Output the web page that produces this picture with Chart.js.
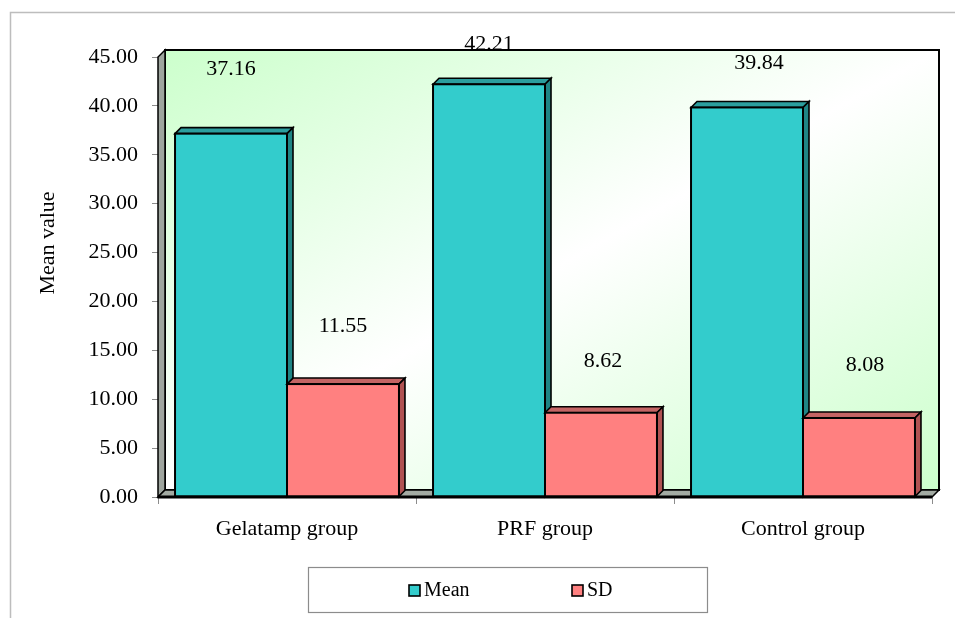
<!DOCTYPE html>
<html>
<head>
<meta charset="utf-8">
<script src="https://cdn.jsdelivr.net/npm/chart.js@4.4.1/dist/chart.umd.min.js"></script>
<style>
  html, body { margin: 0; padding: 0; background: #ffffff; }
  #wrap { width: 955px; height: 618px; position: relative; }
</style>
</head>
<body>
<div id="wrap"><canvas id="c" width="955" height="618"></canvas></div>
<script>
// Group means and standard deviations
const categories = ['Gelatamp group', 'PRF group', 'Control group'];
const meanValues = [37.16, 42.21, 39.84];
const sdValues = [11.55, 8.62, 8.08];
const seriesNames = ['Mean', 'SD'];
const yAxisTitle = 'Mean value';
const yMin = 0, yMax = 45, yStep = 5;

const FONT = '"Liberation Serif", "Times New Roman", serif';
const faces = [
  { front: '#33CCCC', top: '#2B9E9E', side: '#1F8585' },
  { front: '#FF8080', top: '#C46464', side: '#B05252' }
];

// Pseudo-3D walls, floor and bar faces
const depthPlugin = {
  id: 'depth3d',
  beforeDatasetsDraw(chart, args, opts) {
    const { ctx, chartArea: a } = chart;
    const d = opts.wallDepth;
    ctx.save();
    // outer frame
    ctx.strokeStyle = '#bdbdbd';
    ctx.lineWidth = 1.5;
    ctx.beginPath();
    ctx.moveTo(10.5, 700); ctx.lineTo(10.5, 12.5); ctx.lineTo(1000, 12.5);
    ctx.stroke();

    // back wall with diagonal gradient
    const bx = a.left + d, by = a.top - d, bw = a.right - a.left, bh = a.bottom - a.top;
    ctx.save();
    ctx.translate(bx, by);
    ctx.scale(bw, bh);
    const g = ctx.createLinearGradient(0, 0, 1, 1);
    g.addColorStop(0, '#CCFFCC');
    g.addColorStop(0.5, '#FFFFFF');
    g.addColorStop(1, '#CCFFCC');
    ctx.fillStyle = g;
    ctx.fillRect(0, 0, 1, 1);
    ctx.restore();
    ctx.strokeStyle = '#000';
    ctx.lineWidth = 2;
    ctx.strokeRect(bx, by, bw, bh);

    // left wall
    ctx.beginPath();
    ctx.moveTo(a.left, a.bottom);
    ctx.lineTo(a.left, a.top);
    ctx.lineTo(a.left + d, a.top - d);
    ctx.lineTo(a.left + d, a.bottom - d);
    ctx.closePath();
    ctx.fillStyle = '#9EA59E';
    ctx.fill();
    ctx.lineWidth = 1.5;
    ctx.stroke();

    // floor
    ctx.beginPath();
    ctx.moveTo(a.left, a.bottom);
    ctx.lineTo(a.right, a.bottom);
    ctx.lineTo(a.right + d, a.bottom - d);
    ctx.lineTo(a.left + d, a.bottom - d);
    ctx.closePath();
    ctx.fillStyle = '#A3ABA3';
    ctx.fill();
    ctx.lineWidth = 1.5;
    ctx.stroke();
    ctx.restore();
  },
  afterDatasetsDraw(chart, args, opts) {
    const { ctx, chartArea: a } = chart;
    const d = opts.barDepth;
    const metas = chart.data.datasets.map((ds, i) => chart.getDatasetMeta(i));
    ctx.save();
    ctx.lineJoin = 'miter';
    for (let c = 0; c < categories.length; c++) {
      metas.forEach((meta, di) => {
        const p = meta.data[c].getProps(['x', 'y', 'base', 'width'], true);
        const x0 = p.x - p.width / 2, x1 = p.x + p.width / 2;
        const top = p.y, base = p.base;
        const f = faces[di];
        ctx.strokeStyle = '#000';
        ctx.lineWidth = 1.6;
        // top face
        ctx.beginPath();
        ctx.moveTo(x0, top); ctx.lineTo(x0 + d, top - d);
        ctx.lineTo(x1 + d, top - d); ctx.lineTo(x1, top); ctx.closePath();
        ctx.fillStyle = f.top; ctx.fill(); ctx.stroke();
        // side face
        ctx.beginPath();
        ctx.moveTo(x1, top); ctx.lineTo(x1 + d, top - d);
        ctx.lineTo(x1 + d, base - d); ctx.lineTo(x1, base); ctx.closePath();
        ctx.fillStyle = f.side; ctx.fill(); ctx.stroke();
        // front face
        ctx.fillStyle = f.front;
        ctx.fillRect(x0, top, p.width, base - top);
        ctx.lineWidth = 2;
        ctx.strokeRect(x0, top, p.width, base - top);
      });
    }
    // thick front edge of the floor
    ctx.beginPath();
    ctx.moveTo(a.left, a.bottom); ctx.lineTo(a.right, a.bottom);
    ctx.lineWidth = 3; ctx.strokeStyle = '#000'; ctx.stroke();

    // value labels
    ctx.font = '22px ' + FONT;
    ctx.fillStyle = '#000';
    ctx.textAlign = 'center';
    ctx.textBaseline = 'middle';
    metas.forEach((meta, di) => {
      const vals = chart.data.datasets[di].data;
      meta.data.forEach((el, c) => {
        const p = el.getProps(['x', 'y'], true);
        const lift = opts.labelLift[di][c];
        const shift = opts.labelShift[di][c];
        ctx.fillText(vals[c].toFixed(2), p.x + shift, p.y - lift);
      });
    });

    // back wall top and right edges over the labels
    const wd = opts.wallDepth;
    ctx.beginPath();
    ctx.moveTo(a.left + wd, a.top - wd);
    ctx.lineTo(a.right + wd, a.top - wd);
    ctx.lineTo(a.right + wd, a.bottom - wd);
    ctx.lineWidth = 2; ctx.stroke();

    // y-axis title
    ctx.save();
    ctx.translate(48, 243);
    ctx.rotate(-Math.PI / 2);
    ctx.font = '22px ' + FONT;
    ctx.fillText(yAxisTitle, 0, 0);
    ctx.restore();

    // legend
    ctx.strokeStyle = '#8c8c8c';
    ctx.lineWidth = 1.2;
    ctx.strokeRect(308.5, 567.5, 399, 45);
    ctx.font = '20px ' + FONT;
    ctx.textAlign = 'left';
    const items = [{ x: 409 }, { x: 572 }];
    chart.data.datasets.forEach((ds, i) => {
      const x = items[i].x, y = 585;
      ctx.fillStyle = ds.backgroundColor;
      ctx.fillRect(x, y, 11, 11);
      ctx.strokeStyle = '#000';
      ctx.lineWidth = 1.6;
      ctx.strokeRect(x, y, 11, 11);
      ctx.fillStyle = '#000';
      ctx.fillText(ds.label, x + 15, y + 6);
    });
    ctx.restore();
  }
};

new Chart(document.getElementById('c'), {
  type: 'bar',
  data: {
    labels: categories,
    datasets: [
      { label: seriesNames[0], data: meanValues, backgroundColor: faces[0].front, borderColor: '#000', borderWidth: 2 },
      { label: seriesNames[1], data: sdValues, backgroundColor: faces[1].front, borderColor: '#000', borderWidth: 2 }
    ]
  },
  options: {
    responsive: false,
    animation: false,
    devicePixelRatio: 1,
    layout: { padding: { top: 57, right: 23, left: 0, bottom: 0 } },
    datasets: { bar: { categoryPercentage: 0.868, barPercentage: 1.0 } },
    scales: {
      x: {
        afterFit: s => { s.height = 121; },
        grid: { offset: true, drawOnChartArea: false, drawTicks: true, tickLength: 7, color: '#8c8c8c', lineWidth: 1 },
        border: { display: false },
        ticks: { color: '#000', font: { family: FONT, size: 22 }, padding: 12 }
      },
      y: {
        min: yMin, max: yMax,
        afterFit: s => { s.width = 158; },
        grid: { drawOnChartArea: false, drawTicks: true, tickLength: 6, color: '#8c8c8c', lineWidth: 1 },
        border: { display: false },
        ticks: {
          stepSize: yStep, color: '#000', padding: 14,
          font: { family: FONT, size: 22 },
          callback: v => Number(v).toFixed(2)
        }
      }
    },
    plugins: {
      legend: { display: false },
      tooltip: { enabled: false },
      depth3d: {
        wallDepth: 7,
        barDepth: 6,
        labelLift: [[64, 40, 44], [58, 51, 53]],
        labelShift: [[0, 0, 12], [0, 2, 6]]
      }
    }
  },
  plugins: [depthPlugin]
});
</script>
</body>
</html>
